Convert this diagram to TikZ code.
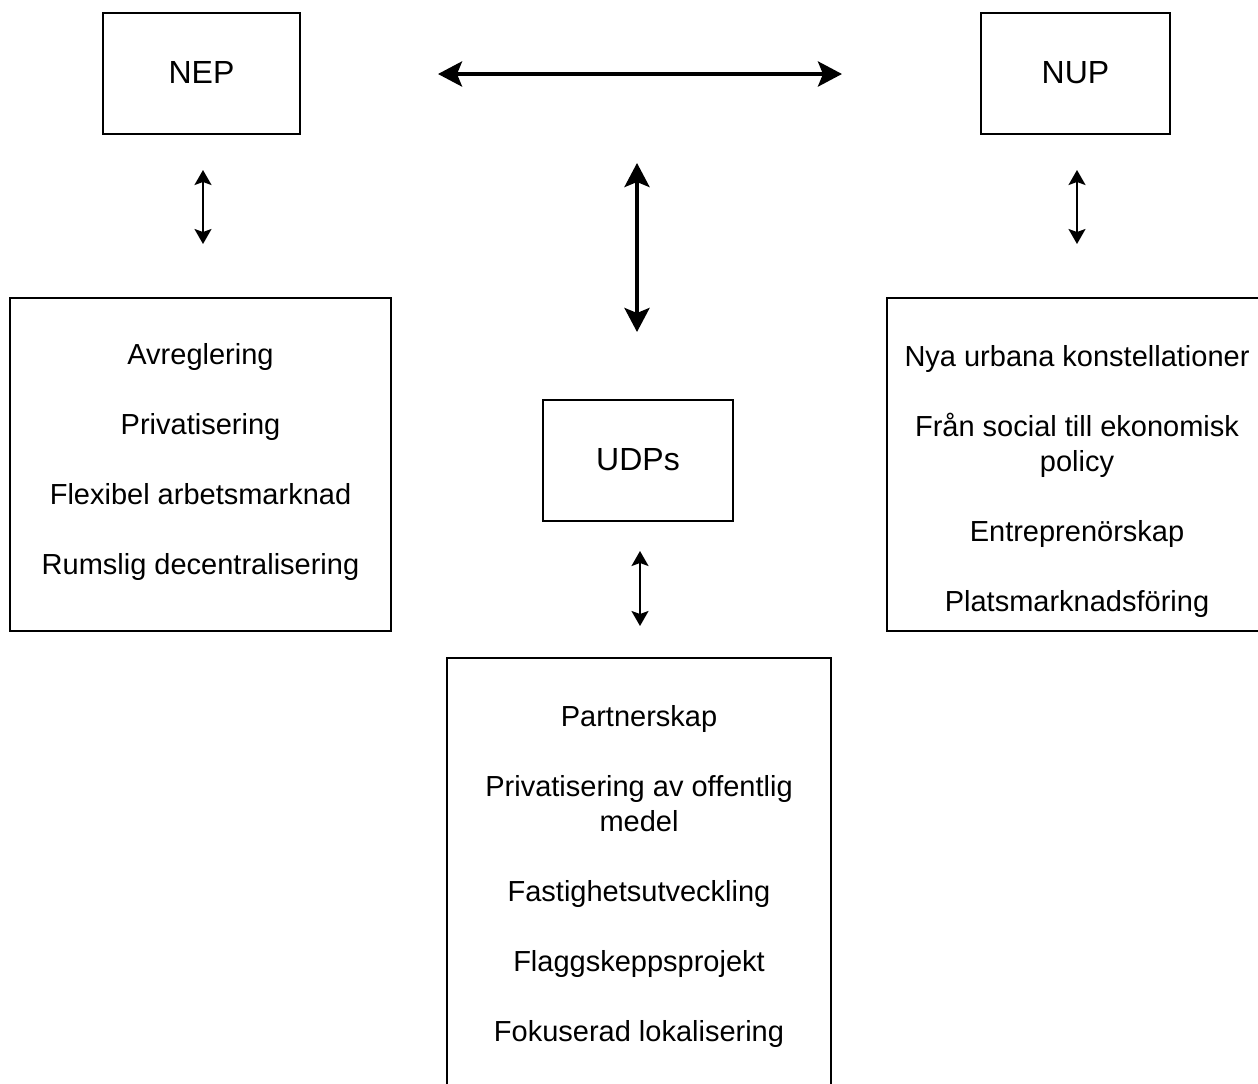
\documentclass[tikz,border=0pt]{standalone}
\usepackage{fontspec}
\setmainfont{Liberation Sans}
\usetikzlibrary{arrows.meta}

\begin{document}
\begin{tikzpicture}[x=0.5pt, y=-0.5pt,
    box/.style = {draw, line width=0.75pt, inner sep=0pt},
    title/.style = {font=\fontsize{16}{19}\selectfont, text height=11.5pt, text depth=2pt},
    words/.style = {align=center, font=\fontsize{14.5}{17.5}\selectfont},
    bigarrow/.style = {{Stealth[length=12pt, width=12.5pt, inset=2.5pt]}-{Stealth[length=12pt, width=12.5pt, inset=2.5pt]}, line width=2pt},
    smallarrow/.style = {{Stealth[length=7.5pt, width=8.5pt, inset=1.5pt]}-{Stealth[length=7.5pt, width=8.5pt, inset=1.5pt]}, line width=1pt}]
    \useasboundingbox (0,0) rectangle (1258,1083);

    \node[box, title, minimum width=98.5pt, minimum height=60.5pt] (nep) at (201.5,73.5) {NEP};
    \node[box, title, minimum width=94.5pt, minimum height=60.5pt] (nup) at (1075.5,73.5) {NUP};
    \node[box, title, minimum width=95pt, minimum height=60.5pt] (udps) at (638,460.5) {UDPs};

    \node[box, minimum width=190.5pt, minimum height=166.5pt] (neplist) at (200.5,464.5) {};
    \node[words] (neptext) at (200.5,461.5) {Avreglering\\[17.5pt]Privatisering\\[17.5pt]Flexibel arbetsmarknad\\[17.5pt]Rumslig decentralisering};

    \node[box, minimum width=190pt, minimum height=166.5pt] (nuplist) at (1077,464.5) {};
    \node[words] (nuptext) at (1077,481) {Nya urbana konstellationer\\[17.5pt]Från social till ekonomisk\\policy\\[17.5pt]Entreprenörskap\\[17.5pt]Platsmarknadsföring};

    \node[box, minimum width=192pt, minimum height=221pt] (udplist) at (639,879) {};
    \node[words] (udptext) at (639,876.5) {Partnerskap\\[17.5pt]Privatisering av offentlig\\medel\\[17.5pt]Fastighetsutveckling\\[17.5pt]Flaggskeppsprojekt\\[17.5pt]Fokuserad lokalisering};

    % arrows
    \coordinate (topL) at (438,74);
    \coordinate (topR) at (842,74);
    \coordinate (midT) at (637,163);
    \coordinate (midB) at (637,332);
    \coordinate (nepA) at (203,170);
    \coordinate (nepB) at (203,244);
    \coordinate (nupA) at (1077,170);
    \coordinate (nupB) at (1077,244);
    \coordinate (udpA) at (640,551);
    \coordinate (udpB) at (640,626);

    \draw[bigarrow] (topL) -- (topR);
    \draw[bigarrow] (midT) -- (midB);
    \draw[smallarrow] (nepA) -- (nepB);
    \draw[smallarrow] (nupA) -- (nupB);
    \draw[smallarrow] (udpA) -- (udpB);
\end{tikzpicture}
\end{document}
